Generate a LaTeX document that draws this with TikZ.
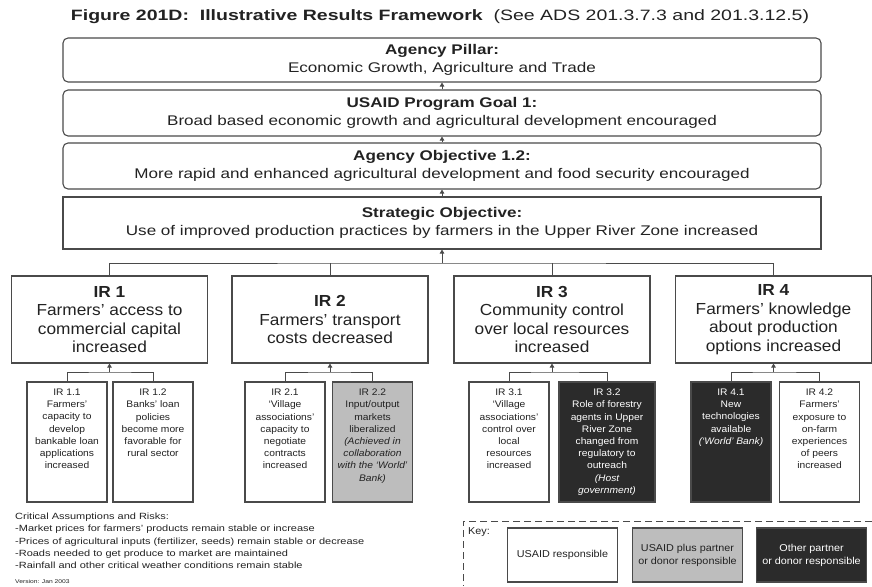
\documentclass[tikz,border=0pt]{standalone}
\usepackage{fontspec}
\setmainfont{Liberation Sans}
\newfontfamily\widefont[Ligatures=TeX, FakeStretch=1.22]{Liberation Sans}
\newfontfamily\titlefont[Ligatures=TeX, FakeStretch=1.3]{Liberation Sans}
\newfontfamily\midfont[Ligatures=TeX, FakeStretch=1.08]{Liberation Sans}
\usepackage{tikz}
\usetikzlibrary{arrows.meta}
\definecolor{boxline}{HTML}{4A4A4A}
\definecolor{darkbox}{HTML}{2B2B2B}
\definecolor{greybox}{HTML}{BDBDBD}
\definecolor{inktext}{HTML}{222222}
\tikzset{
    tier/.style={draw=boxline, line width=1.1pt, rounded corners=5pt, minimum width=758pt, align=center, inner sep=0pt, font=\widefont\fontsize{14}{18}\selectfont},
    irbox/.style={draw=boxline, line width=1.1pt, minimum width=196pt, minimum height=87pt, align=center, inner sep=0pt, font=\midfont\fontsize{16}{18.5}\selectfont},
    subir/.style={draw=boxline, line width=1.1pt, minimum width=80pt, minimum height=120pt, inner sep=0pt, font=\midfont\fontsize{9.5}{12.2}\selectfont},
    partner/.style={fill=greybox},
    other/.style={fill=darkbox, text=white},
    keybox/.style={draw=boxline, line width=1.1pt, minimum width=110pt, minimum height=54pt, align=center, inner sep=0pt, font=\midfont\fontsize{10}{13}\selectfont},
    link/.style={draw=boxline, line width=0.9pt},
    up/.style={link, -{Triangle[length=4pt,width=4.5pt]}},
}
\newcommand{\subtext}[2][76pt]{\parbox[c][106pt][t]{#1}{\centering #2}}

\begin{document}
\begin{tikzpicture}[x=1pt, y=-1pt, text=inktext]
                 \useasboundingbox (0,0) rectangle (872,586);
                 \node[font=\titlefont\fontsize{15}{18}\selectfont] (title) at (440,17) {\textbf{Figure 201D:\ \ Illustrative Results Framework}\ \ (See ADS 201.3.7.3 and 201.3.12.5)};

                 \node[tier, minimum height=44pt] (pillar) at (442,60) {\textbf{Agency Pillar:}\\Economic Growth, Agriculture and Trade};
                 \node[tier, minimum height=46pt] (goal) at (442,113) {\textbf{USAID Program Goal 1:}\\Broad based economic growth and agricultural development encouraged};
                 \node[tier, minimum height=46pt] (objective) at (442,166) {\textbf{Agency Objective 1.2:}\\More rapid and enhanced agricultural development and food security encouraged};
                 \node[tier, rounded corners=0pt, minimum height=52pt] (so) at (442,223) {\textbf{Strategic Objective:}\\Use of improved production practices by farmers in the Upper River Zone increased};
                 \draw[up] (goal.north) -- (pillar.south);
                 \draw[up] (objective.north) -- (goal.south);
                 \draw[up] (so.north) -- (objective.south);

                 \node[irbox] (ir1) at (109.5,319.5) {\textbf{IR 1}\\Farmers' access to\\commercial capital\\increased};
                 \node[irbox] (ir2) at (330,319.5) {\textbf{IR 2}\\Farmers' transport\\costs decreased};
                 \node[irbox] (ir3) at (552,319.5) {\textbf{IR 3}\\Community control\\over local resources\\increased};
                 \node[irbox] (ir4) at (773.5,319.5) {\textbf{IR 4}\\Farmers' knowledge\\about production\\options increased};
                 \coordinate (irbus) at (442,263);
                 \draw[link] (ir1.north) |- (irbus) -| (ir4.north);
                 \draw[link] (ir2.north) -- (ir2.north |- irbus);
                 \draw[link] (ir3.north) -- (ir3.north |- irbus);
                 \draw[up] (irbus) -- (so.south);

                 \node[subir] (ir11) at (67,442) {\subtext{IR 1.1\\Farmers'\\capacity to\\develop\\bankable loan\\applications\\increased}};
                 \node[subir] (ir12) at (153,442) {\subtext{IR 1.2\\Banks' loan\\policies\\become more\\favorable for\\rural sector}};
                 \node[subir] (ir21) at (285,442) {\subtext{IR 2.1\\`Village\\associations'\\capacity to\\negotiate\\contracts\\increased}};
                 \node[subir, partner] (ir22) at (372.5,442) {\subtext{IR 2.2\\Input/output\\markets\\liberalized\\{\itshape (Achieved in\\collaboration\\with the `World'\\Bank)}}};
                 \node[subir] (ir31) at (509,442) {\subtext{IR 3.1\\`Village\\associations'\\control over\\local\\resources\\increased}};
                 \node[subir, other, minimum width=96pt] (ir32) at (607,442) {\subtext[92pt]{IR 3.2\\Role of forestry\\agents in Upper\\River Zone\\changed from\\regulatory to\\outreach\\{\itshape (Host\\government)}}};
                 \node[subir, other] (ir41) at (731,442) {\subtext{IR 4.1\\New\\technologies\\available\\{\itshape (`World' Bank)}}};
                 \node[subir] (ir42) at (819.5,442) {\subtext{IR 4.2\\Farmers'\\exposure to\\on-farm\\experiences\\of peers\\increased}};
                 \foreach \k/\a/\b in {1/ir11/ir12, 2/ir21/ir22, 3/ir31/ir32, 4/ir41/ir42}{
                     \draw[link] (\a.north) |- (ir\k.south |- 0,372) -| (\b.north);
                     \draw[up] (ir\k.south |- 0,372) -- (ir\k.south);
                 }

                 \node[anchor=north west, align=left, inner sep=0pt, font=\widefont\fontsize{9}{12.2}\selectfont] (risks) at (15,513) {Critical Assumptions and Risks:\\-Market prices for farmers' products remain stable or increase\\-Prices of agricultural inputs (fertilizer, seeds) remain stable or decrease\\-Roads needed to get produce to market are maintained\\-Rainfall and other critical weather conditions remain stable};
                 \node[anchor=west, inner sep=0pt, font=\widefont\fontsize{5.5}{6}\selectfont] (version) at (15,582) {Version: Jan 2003};

                 \draw[boxline, dashed, dash pattern=on 7pt off 4pt, line width=0.9pt] (872,521) -- (463,521) -- (463,586);
                 \node[anchor=west, inner sep=0pt, font=\midfont\fontsize{10}{12}\selectfont] (keylabel) at (468,532) {Key:};
                 \node[keybox] (key1) at (562.5,555) {USAID responsible};
                 \node[keybox, partner] (key2) at (687.5,555) {USAID plus partner\\or donor responsible};
                 \node[keybox, other] (key3) at (811.5,555) {Other partner\\or donor responsible};
             \end{tikzpicture}
\end{document}
